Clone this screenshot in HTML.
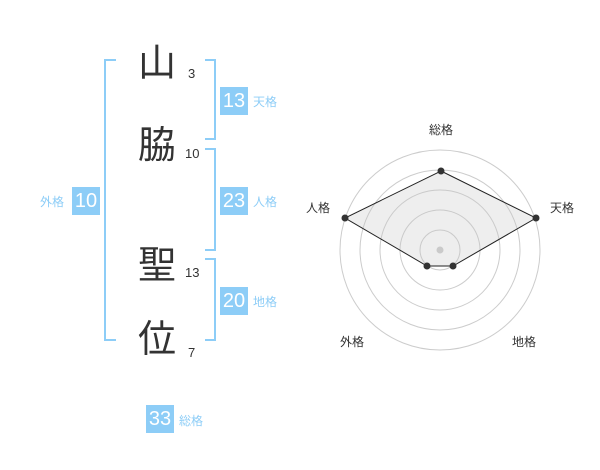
<!DOCTYPE html>
<html><head><meta charset="utf-8"><style>
body{margin:0;width:600px;height:470px;background:#fff;position:relative;overflow:hidden;font-family:"Liberation Sans","Noto Sans CJK JP",sans-serif}
.a{position:absolute}
.k{position:absolute;font-size:38px;color:#333;line-height:1;width:40px;text-align:center}
.n{position:absolute;font-size:13px;color:#333;line-height:1}
.b{position:absolute;width:28px;height:28px;background:#8dcdf7;color:#fff;font-size:20px;line-height:28px;text-align:center}
.l{position:absolute;font-size:12px;color:#8dcdf7;line-height:1}
</style></head><body>
<svg class="a" style="left:0;top:0" width="600" height="470">
<g stroke="#8dcdf7" stroke-width="2" fill="none">
<polyline points="116,60 105,60 105,340 116,340"/>
<polyline points="205,60 215,60 215,139 205,139"/>
<polyline points="205,149 215,149 215,250 205,250"/>
<polyline points="205,259 215,259 215,340 205,340"/>
</g>
<g stroke="#ccc" fill="none" stroke-width="1">
<circle cx="440" cy="250" r="20"/><circle cx="440" cy="250" r="40"/><circle cx="440" cy="250" r="60"/><circle cx="440" cy="250" r="80"/><circle cx="440" cy="250" r="100"/>
</g>
<circle cx="440" cy="250" r="3.5" fill="#ccc"/>
<polygon points="441,171 536,218 453,266 427,266 345,218" fill="rgba(200,200,200,0.3)" stroke="#222" stroke-width="1"/>
<g fill="#333"><circle cx="441" cy="171" r="3.5"/><circle cx="536" cy="218" r="3.5"/><circle cx="453" cy="266" r="3.5"/><circle cx="427" cy="266" r="3.5"/><circle cx="345" cy="218" r="3.5"/></g>
<g font-size="12" fill="#333" text-anchor="middle" font-family="Liberation Sans,Noto Sans CJK JP,sans-serif">
<text x="441" y="134">総格</text><text x="562" y="212">天格</text><text x="318" y="212">人格</text><text x="352" y="346">外格</text><text x="524" y="346">地格</text>
</g>
</svg>
<div class="k" style="left:137px;top:45px">山</div>
<div class="k" style="left:137px;top:127px">脇</div>
<div class="k" style="left:137px;top:247px">聖</div>
<div class="k" style="left:137px;top:321px">位</div>
<div class="n" style="left:188px;top:67px">3</div>
<div class="n" style="left:185px;top:147px">10</div>
<div class="n" style="left:185px;top:266px">13</div>
<div class="n" style="left:188px;top:346px">7</div>
<div class="b" style="left:220px;top:87px">13</div><div class="l" style="left:253px;top:96px">天格</div>
<div class="b" style="left:220px;top:187px">23</div><div class="l" style="left:253px;top:196px">人格</div>
<div class="b" style="left:220px;top:287px">20</div><div class="l" style="left:253px;top:296px">地格</div>
<div class="b" style="left:72px;top:187px">10</div><div class="l" style="left:40px;top:196px">外格</div>
<div class="b" style="left:146px;top:405px">33</div><div class="l" style="left:179px;top:415px">総格</div>
</body></html>
